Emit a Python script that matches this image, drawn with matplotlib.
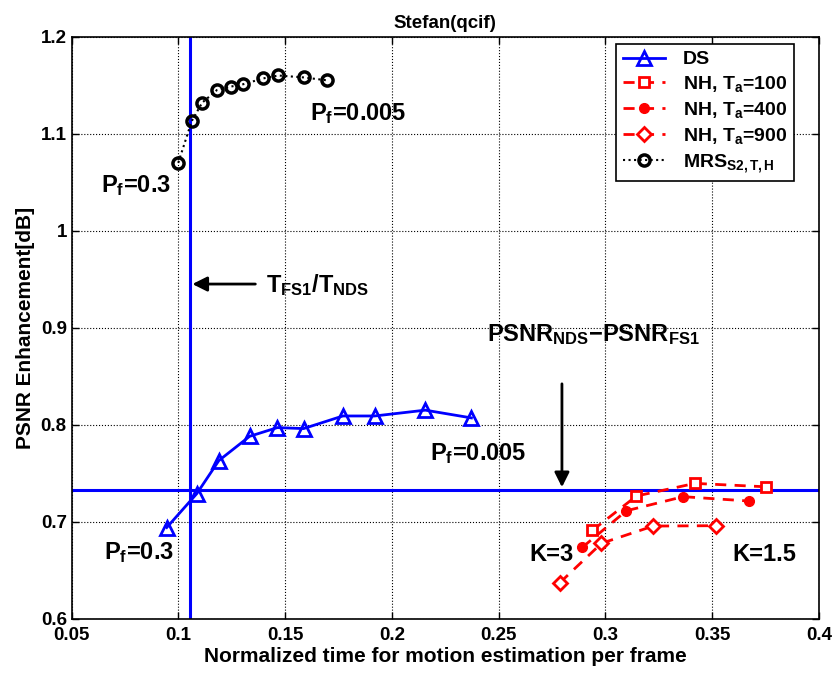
import numpy as np
import matplotlib
matplotlib.use('Agg')
import matplotlib.pyplot as plt

plt.rcParams['font.family'] = ['Liberation Sans', 'DejaVu Sans']
plt.rcParams['font.weight'] = 'bold'
plt.rcParams['mathtext.fontset'] = 'custom'
plt.rcParams['mathtext.rm'] = 'Liberation Sans:bold'
plt.rcParams['mathtext.bf'] = 'Liberation Sans:bold'
plt.rcParams['mathtext.it'] = 'Liberation Sans:bold'

# DS curve
ds_x = [0.0945, 0.1086, 0.1189, 0.1333, 0.1463, 0.1586, 0.1770, 0.1919, 0.2156, 0.2372]
ds_y = [0.694, 0.729, 0.763, 0.788, 0.797, 0.796, 0.809, 0.809, 0.815, 0.807]

# NH curves for three thresholds
nh100_x = [0.2938, 0.3145, 0.3419, 0.3750]
nh100_y = [0.691, 0.7265, 0.7395, 0.736]
nh400_x = [0.2891, 0.3098, 0.3364, 0.3673]
nh400_y = [0.6735, 0.7113, 0.7258, 0.7213]
nh900_x = [0.2786, 0.2981, 0.3223, 0.3516]
nh900_y = [0.6371, 0.6777, 0.6955, 0.6959]

# MRS curve
mrs_x = [0.0999, 0.1062, 0.1111, 0.1180, 0.1244, 0.1303, 0.1397, 0.1467, 0.1587, 0.1696]
mrs_y = [1.070, 1.113, 1.132, 1.145, 1.1485, 1.151, 1.157, 1.160, 1.158, 1.155]

# reference lines
t_ratio = 0.1052
psnr_diff = 0.7327

fig = plt.figure(figsize=(8.37, 6.77), dpi=100)
ax = fig.add_axes([0.0857, 0.0861, 0.8928, 0.8597])

ax.axvline(t_ratio, color='b', lw=2.2, zorder=2)
ax.axhline(psnr_diff, color='b', lw=2.2, zorder=2)

ax.plot(ds_x, ds_y, '-', color='b', lw=2, marker='^', ms=10, mfc='none', mec='b', mew=2,
        label='DS', zorder=3)
ax.plot(nh100_x, nh100_y, '--', color='r', lw=2, dashes=(4, 3), marker='s', ms=7,
        mfc='w', mec='r', mew=2, label=r'NH, T$\mathbf{_a}$=100', zorder=3)
ax.plot(nh400_x, nh400_y, '--', color='r', lw=2, dashes=(4, 3), marker='o', ms=7,
        mfc='r', mec='r', label=r'NH, T$\mathbf{_a}$=400', zorder=3)
ax.plot(nh900_x, nh900_y, '--', color='r', lw=2, dashes=(4, 3), marker='D', ms=7,
        mfc='w', mec='r', mew=2, label=r'NH, T$\mathbf{_a}$=900', zorder=3)
ax.plot(mrs_x, mrs_y, ':', color='k', lw=1.5, marker='o', ms=8, mfc='none', mec='k',
        mew=2.5, label=r'MRS$\mathbf{_{S2,T,H}}$', zorder=3)

ax.set_xlim(0.05, 0.4)
ax.set_ylim(0.6, 1.2)
ax.set_xticks(np.arange(0.05, 0.401, 0.05))
ax.set_xticklabels(['0.05', '0.1', '0.15', '0.2', '0.25', '0.3', '0.35', '0.4'],
                   fontweight='bold')
ax.set_yticks(np.arange(0.6, 1.201, 0.1))
ax.set_yticklabels(['0.6', '0.7', '0.8', '0.9', '1', '1.1', '1.2'], fontweight='bold')
ax.tick_params(direction='in', top=True, right=True, labelsize=13.5, length=5, width=1)
ax.tick_params(axis='x', pad=6)
ax.grid(True, linestyle=':', color='k', lw=0.8)
for s in ax.spines.values():
    s.set_linewidth(1.2)

ax.set_title('Stefan(qcif)', fontsize=13.5, fontweight='bold', pad=6)
ax.set_xlabel('Normalized time for motion estimation per frame', fontsize=15,
              fontweight='bold', labelpad=2)
ax.set_ylabel('PSNR Enhancement[dB]', fontsize=15, fontweight='bold', labelpad=4)

# text annotations
tk = dict(fontsize=17, fontweight='bold', va='baseline')
ax.text(0.0636, 1.040, r'P$\mathbf{_f}$=0.3', **tk)
ax.text(0.1615, 1.114, r'P$\mathbf{_f}$=0.005', **tk)
ax.text(0.0651, 0.661, r'P$\mathbf{_f}$=0.3', **tk)
ax.text(0.2177, 0.764, r'P$\mathbf{_f}$=0.005', **tk)
ax.text(0.2643, 0.660, 'K=3', **tk)
ax.text(0.3593, 0.660, 'K=1.5', **tk)
ax.text(0.1412, 0.937, r'T$\mathbf{_{FS1}}$/T$\mathbf{_{NDS}}$', **tk)
ax.text(0.2445, 0.8866, r'PSNR$\mathbf{_{NDS}}$$-$PSNR$\mathbf{_{FS1}}$', **tk)

ax.annotate('', xy=(t_ratio, 0.945), xytext=(0.1373, 0.945),
            arrowprops=dict(arrowstyle='-|>', color='k', lw=2, mutation_scale=22))
ax.annotate('', xy=(0.2796, psnr_diff), xytext=(0.2796, 0.845),
            arrowprops=dict(arrowstyle='-|>', color='k', lw=2, mutation_scale=22))

leg = ax.legend(loc='upper right', bbox_to_anchor=(0.9666, 0.9875), fontsize=14,
                fancybox=False, framealpha=1, edgecolor='k', borderpad=0.35,
                labelspacing=0.3, handlelength=2.2, handletextpad=0.9, borderaxespad=0)
leg.get_frame().set_linewidth(1.2)

fig.savefig('out.png', dpi=100)
